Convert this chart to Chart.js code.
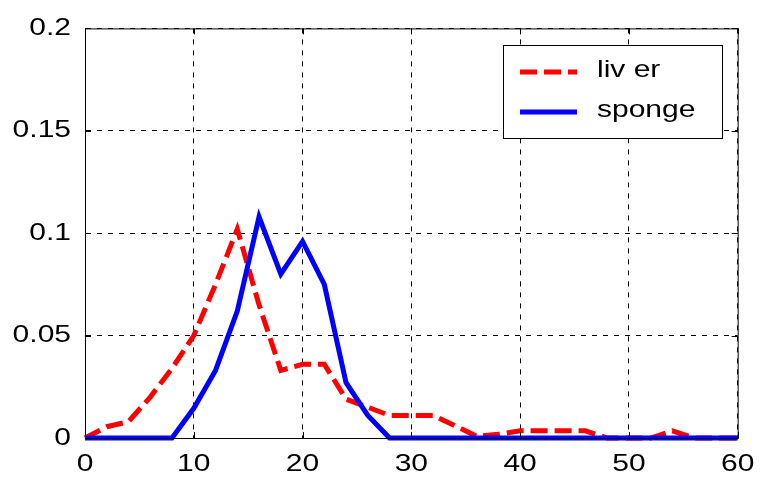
<!DOCTYPE html>
<html>
<head>
<meta charset="utf-8">
<script src="https://cdn.jsdelivr.net/npm/chart.js@4"></script>
<style>
  body { margin: 0; background: #fff; }
  #wrap { width: 763px; height: 479px; }
</style>
</head>
<body>
<div id="wrap"><canvas id="chart"></canvas></div>
<script>
// x positions (every 2 units)
const xValues = [0, 2, 4, 6, 8, 10, 12, 14, 16, 18, 20, 22, 24, 26, 28, 30,
  32, 34, 36, 38, 40, 42, 44, 46, 48, 50, 52, 54, 56, 58, 60];
const liver = [0, 0.0055, 0.008, 0.02, 0.034, 0.05, 0.075, 0.102, 0.065, 0.033,
  0.036, 0.036, 0.019, 0.015, 0.011, 0.011, 0.011, 0.006, 0.0008, 0.0018, 0.0035,
  0.0035, 0.0035, 0.0035, 0, 0, 0, 0.0035, 0, 0, 0];
const sponge = [0, 0, 0, 0, 0, 0.0145, 0.033, 0.062, 0.108, 0.08, 0.096, 0.075,
  0.027, 0.011, 0, 0, 0, 0, 0, 0, 0, 0, 0, 0, 0, 0, 0, 0, 0, 0, 0];
const seriesNames = ['liv er', 'sponge'];
const xTicks = [0, 10, 20, 30, 40, 50, 60];
const yTicks = [0, 0.05, 0.1, 0.15, 0.2];

const FONT = "'Liberation Sans', Arial, sans-serif";
const STRETCH = 1.25; // the old figure has wide letters

const toPoints = (ys) => xValues.map((x, i) => ({ x: x, y: ys[i] }));

// box, inward ticks and legend, like the matlab figure
const matlabBox = {
  id: 'matlabBox',
  beforeDraw(chart) {
    const ctx = chart.ctx;
    if (!ctx._wide) {
      const orig = ctx.fillText.bind(ctx);
      ctx.fillText = function (text, x, y, maxW) {
        ctx.save();
        ctx.translate(x, y);
        ctx.scale(STRETCH, 1);
        orig(text, 0, 0);
        ctx.restore();
      };
      ctx._wide = true;
    }
  },
  afterDraw(chart) {
    const ctx = chart.ctx;
    const a = chart.chartArea;
    const xs = chart.scales.x, ys = chart.scales.y;
    ctx.save();
    ctx.strokeStyle = '#000';
    ctx.lineWidth = 1;
    ctx.setLineDash([]);
    ctx.strokeRect(a.left + 0.5, a.top + 0.5, a.right - a.left, a.bottom - a.top);
    ctx.beginPath();
    xTicks.forEach(v => {
      const px = Math.round(xs.getPixelForValue(v)) + 0.5;
      ctx.moveTo(px, a.bottom); ctx.lineTo(px, a.bottom - 6);
      ctx.moveTo(px, a.top); ctx.lineTo(px, a.top + 6);
    });
    yTicks.forEach(v => {
      const py = Math.round(ys.getPixelForValue(v)) + 0.5;
      ctx.moveTo(a.left, py); ctx.lineTo(a.left + 6, py);
      ctx.moveTo(a.right, py); ctx.lineTo(a.right - 6, py);
    });
    ctx.stroke();

    // legend
    const bx = 503, by = 45, bw = 219, bh = 93;
    ctx.fillStyle = '#fff';
    ctx.fillRect(bx, by, bw, bh);
    ctx.strokeRect(bx + 0.5, by + 0.5, bw, bh);
    const rows = [72, 112];
    chart.data.datasets.forEach((ds, i) => {
      ctx.beginPath();
      ctx.strokeStyle = ds.borderColor;
      ctx.lineWidth = ds.borderWidth;
      ctx.setLineDash(ds.borderDash || []);
      ctx.moveTo(520, rows[i]);
      ctx.lineTo(577, rows[i]);
      ctx.stroke();
      ctx.setLineDash([]);
      ctx.fillStyle = '#000';
      ctx.font = '24px ' + FONT;
      ctx.textBaseline = 'middle';
      ctx.textAlign = 'left';
      ctx.fillText(ds.label, 597, rows[i] - 2);
    });
    ctx.restore();
  }
};

new Chart(document.getElementById('chart'), {
  type: 'line',
  data: {
    datasets: [
      {
        label: seriesNames[0],
        data: toPoints(liver),
        borderColor: '#ff0000',
        borderWidth: 5,
        borderDash: [17, 7],
        pointRadius: 0,
        tension: 0,
        clip: 6,
        order: 2
      },
      {
        label: seriesNames[1],
        data: toPoints(sponge),
        borderColor: '#0000ff',
        borderWidth: 5,
        pointRadius: 0,
        tension: 0,
        clip: 6,
        order: 1
      }
    ]
  },
  options: {
    responsive: true,
    maintainAspectRatio: false,
    animation: false,
    layout: { padding: { top: 26, right: 21, left: 0, bottom: 0 } },
    plugins: {
      legend: { display: false },
      tooltip: { enabled: false }
    },
    scales: {
      x: {
        type: 'linear',
        min: 0,
        max: 60,
        afterBuildTicks: (s) => { s.ticks = xTicks.map(v => ({ value: v })); },
        afterFit: (s) => { s.height = 41; },
        ticks: {
          color: '#000',
          font: { family: FONT, size: 24 },
          padding: 12,
          maxRotation: 0,
          autoSkip: false
        },
        grid: {
          color: '#000',
          lineWidth: 1,
          tickLength: 0,
          drawTicks: false
        },
        border: { display: true, color: '#000', width: 1, dash: [5, 6] }
      },
      y: {
        min: 0,
        max: 0.2,
        afterBuildTicks: (s) => { s.ticks = yTicks.map(v => ({ value: v })); },
        afterFit: (s) => { s.width = 85; },
        ticks: {
          color: '#000',
          font: { family: FONT, size: 24 },
          padding: 14,
          callback: (v) => String(v)
        },
        grid: {
          color: '#000',
          lineWidth: 1,
          tickLength: 0,
          drawTicks: false
        },
        border: { display: true, color: '#000', width: 1, dash: [5, 6] }
      }
    }
  },
  plugins: [matlabBox]
});
</script>
</body>
</html>
